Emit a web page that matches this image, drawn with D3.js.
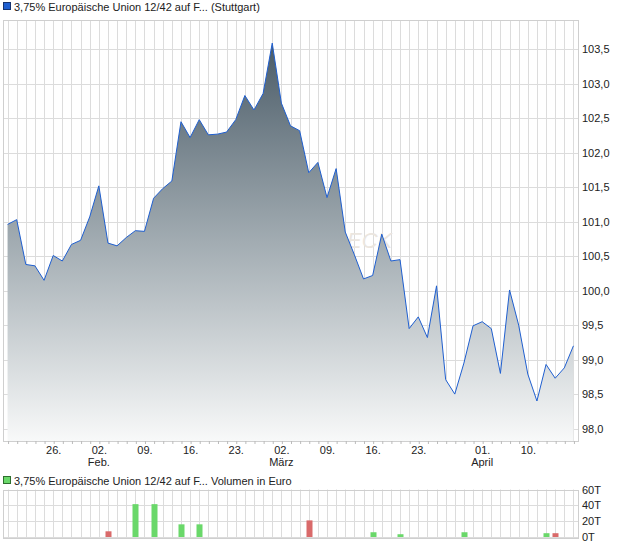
<!DOCTYPE html>
<html><head><meta charset="utf-8">
<script src="https://cdn.jsdelivr.net/npm/d3@7"></script>
<style>
body{margin:0;background:#fff;}
text{font-family:"Liberation Sans",Arial,sans-serif;}
</style>
</head><body>
<svg id="c" width="620" height="546"></svg>
<script>
// ---------- data ----------
const dates = [
 "2026-01-19","2026-01-20","2026-01-21","2026-01-22","2026-01-23",
 "2026-01-26","2026-01-27","2026-01-28","2026-01-29","2026-01-30",
 "2026-02-02","2026-02-03","2026-02-04","2026-02-05","2026-02-06",
 "2026-02-09","2026-02-10","2026-02-11","2026-02-12","2026-02-13",
 "2026-02-16","2026-02-17","2026-02-18","2026-02-19","2026-02-20",
 "2026-02-23","2026-02-24","2026-02-25","2026-02-26","2026-02-27",
 "2026-03-02","2026-03-03","2026-03-04","2026-03-05","2026-03-06",
 "2026-03-09","2026-03-10","2026-03-11","2026-03-12","2026-03-13",
 "2026-03-16","2026-03-17","2026-03-18","2026-03-19","2026-03-20",
 "2026-03-23","2026-03-24","2026-03-25","2026-03-26","2026-03-27",
 "2026-03-30","2026-03-31","2026-04-01","2026-04-02",
 "2026-04-07","2026-04-08","2026-04-09","2026-04-10",
 "2026-04-13","2026-04-14","2026-04-15","2026-04-16","2026-04-17"
];
const prices = [
 100.96,101.03,100.38,100.36,100.15,100.51,100.43,100.67,100.73,101.07,
 101.52,100.69,100.65,100.77,100.87,100.86,101.34,101.48,101.59,102.45,
 102.22,102.48,102.26,102.27,102.30,102.48,102.83,102.62,102.86,103.59,
 102.72,102.39,102.32,101.71,101.86,101.35,101.77,100.85,100.52,100.17,
 100.22,100.82,100.43,100.45,99.45,99.62,99.32,100.07,98.71,98.50,
 98.95,99.49,99.55,99.45,98.80,100.01,99.50,98.79,98.40,98.93,
 98.73,98.88,99.20
];
const volumes = [
 0,0,0,0,0,0,0,0,0,0,
 0,7200,0,0,41500,0,41500,0,0,16000,
 0,16000,0,0,0,0,0,0,0,0,
 0,0,0,21000,0,0,0,0,0,0,
 6000,0,0,3500,0,0,0,0,0,0,
 6000,0,0,0,0,0,0,0,0,4800,
 4800,0,0
];
const xTickDates = ["2026-01-26","2026-02-02","2026-02-09","2026-02-16","2026-02-23",
                    "2026-03-02","2026-03-09","2026-03-16","2026-03-23","2026-04-01","2026-04-10"];
const xTickLabels = ["26.","02.","09.","16.","23.","02.","09.","16.","23.","01.","10."];
const monthDates = ["2026-02-02","2026-03-02","2026-04-01"];
const monthLabels = ["Feb.","März","April"];
const yTicks = [98.0,98.5,99.0,99.5,100.0,100.5,101.0,101.5,102.0,102.5,103.0,103.5];
const vTicks = [0,20000,40000,60000];
const title = "3,75% Europäische Union 12/42 auf F... (Stuttgart)";
const volTitle = "3,75% Europäische Union 12/42 auf F... Volumen in Euro";

// ---------- layout ----------
const svg = d3.select("#c");
const L = 3, R = 578, T = 20, B = 441;
const VT = 489.5, VB = 537;
const gridC = "#dcdcdc", borderC = "#cfcfcf";
const crisp = v => Math.round(v) + 0.5;

const idx = d3.range(dates.length);
const x = d3.scaleLinear().domain([-0.5, dates.length - 0.5]).range([L, R]);
const y = d3.scaleLinear().domain([97.82, 103.925]).range([B, T]);
const yv = d3.scaleLinear().domain([0, 60000]).range([VB, VT]);
const xi = d => dates.indexOf(d);

// ---------- defs ----------
const defs = svg.append("defs");
const grad = defs.append("linearGradient").attr("id","ag")
  .attr("x1",0).attr("y1",0).attr("x2",0).attr("y2",1);
grad.append("stop").attr("offset","0%").attr("stop-color","#4b5c68");
grad.append("stop").attr("offset","50%").attr("stop-color","#a2acb2");
grad.append("stop").attr("offset","100%").attr("stop-color","#f8f9f9");

// ---------- main chart grid ----------
const g = svg.append("g");
g.selectAll("line.vg").data(idx).join("line").attr("class","vg")
  .attr("x1", i => crisp(x(i))).attr("x2", i => crisp(x(i)))
  .attr("y1", T).attr("y2", B).attr("stroke", gridC);
g.selectAll("line.hg").data(yTicks).join("line").attr("class","hg")
  .attr("x1", L).attr("x2", R)
  .attr("y1", d => crisp(y(d))).attr("y2", d => crisp(y(d))).attr("stroke", gridC);
g.append("rect").attr("x", crisp(L)).attr("y", crisp(T))
  .attr("width", Math.round(R - L)).attr("height", Math.round(B - T))
  .attr("fill","none").attr("stroke", borderC);

// watermark (mostly hidden behind the area)
g.append("text").attr("x", 347).attr("y", 248)
  .attr("font-size", 22).attr("font-style","italic")
  .attr("fill", "#ebe6df").text("ECK");

// ---------- area + line ----------
const area = d3.area().x((d,i) => x(i)).y0(B).y1(d => y(d));
const line = d3.line().x((d,i) => x(i)).y(d => y(d));
g.append("path").datum(prices).attr("d", area).attr("fill","url(#ag)");
g.append("path").datum(prices).attr("d", line)
  .attr("fill","none").attr("stroke","#1f5fd0").attr("stroke-width",1);

// ---------- y axis (right) ----------
const yAx = svg.append("g").attr("transform", `translate(${R},0)`)
  .call(d3.axisRight(y).tickValues(yTicks).tickSize(0).tickPadding(4)
        .tickFormat(d => d.toFixed(1).replace(".", ",")));
yAx.select(".domain").remove();
yAx.selectAll("text").attr("font-size", 11).attr("fill","#222")
  .attr("font-family",'"Liberation Sans",Arial,sans-serif');

// ---------- x axis ----------
const xMinor = svg.append("g").attr("transform", `translate(0,${B})`)
  .call(d3.axisBottom(x).tickValues(idx).tickSize(3).tickFormat(""));
xMinor.select(".domain").remove();
xMinor.selectAll("line").attr("stroke","#bbbbbb").attr("transform","translate(0.5,0)");

const xAx = svg.append("g").attr("transform", `translate(0,${B})`)
  .call(d3.axisBottom(x).tickValues(xTickDates.map(xi)).tickSize(0)
        .tickFormat((d,k) => xTickLabels[k]));
xAx.select(".domain").remove();
xAx.selectAll("text").attr("y", 12.5).attr("dy", null).attr("font-size", 11).attr("fill","#222")
  .attr("font-family",'"Liberation Sans",Arial,sans-serif');

svg.append("g").selectAll("text").data(monthDates).join("text")
  .attr("x", d => x(xi(d))).attr("y", 465.5).attr("text-anchor","middle")
  .attr("font-size", 11).attr("fill","#222").text((d,k) => monthLabels[k]);

// ---------- title / legend ----------
svg.append("rect").attr("x", 3.5).attr("y", 2.5).attr("width", 7).attr("height", 7)
  .attr("fill","#1f5fd0").attr("stroke","#17336e");
svg.append("text").attr("x", 14).attr("y", 10.5).attr("font-size", 11).attr("fill","#222").text(title);

// ---------- volume chart ----------
const gv = svg.append("g");
gv.selectAll("line.vg").data(idx).join("line").attr("class","vg")
  .attr("x1", i => crisp(x(i))).attr("x2", i => crisp(x(i)))
  .attr("y1", VT).attr("y2", VB).attr("stroke", gridC);
gv.selectAll("line.hg").data(vTicks).join("line").attr("class","hg")
  .attr("x1", L).attr("x2", R)
  .attr("y1", d => crisp(yv(d))).attr("y2", d => crisp(yv(d))).attr("stroke", gridC);
gv.append("rect").attr("x", crisp(L)).attr("y", crisp(VT))
  .attr("width", Math.round(R - L)).attr("height", Math.round(VB - VT))
  .attr("fill","none").attr("stroke", borderC);

gv.selectAll("rect.bar").data(idx.filter(i => volumes[i] > 0)).join("rect").attr("class","bar")
  .attr("x", i => Math.round(x(i)) - 2.5).attr("width", 6)
  .attr("y", i => yv(volumes[i])).attr("height", i => yv(0) - yv(volumes[i]))
  .attr("fill", i => (i > 0 && prices[i] < prices[i-1]) ? "#d96a6a" : "#6ad86a");

const vAx = svg.append("g").attr("transform", `translate(${R},0)`)
  .call(d3.axisRight(yv).tickValues(vTicks).tickSize(0).tickPadding(4)
        .tickFormat(d => (d/1000) + "T"));
vAx.select(".domain").remove();
vAx.selectAll("text").attr("font-size", 11).attr("fill","#222")
  .attr("font-family",'"Liberation Sans",Arial,sans-serif');

svg.append("rect").attr("x", 3.5).attr("y", 476.5).attr("width", 7).attr("height", 7)
  .attr("fill","#6ad86a").attr("stroke","#2e6e2e");
svg.append("text").attr("x", 14).attr("y", 484.5).attr("font-size", 11).attr("fill","#222").text(volTitle);
</script>
</body></html>
